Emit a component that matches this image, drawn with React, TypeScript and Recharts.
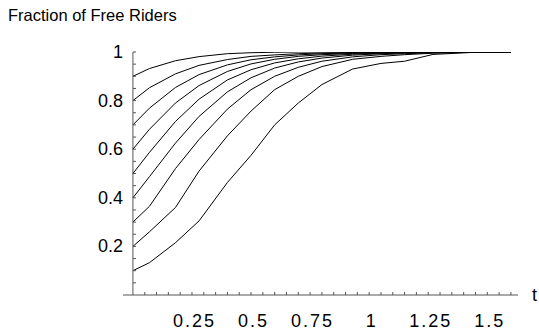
import { LineChart, Line, XAxis, YAxis, ReferenceLine } from 'recharts'

// time grid (t) shared by all curves
const tVals = [0, 0.07, 0.18, 0.28, 0.4, 0.5, 0.6, 0.7, 0.8, 0.93, 1.05, 1.15, 1.27, 1.45, 1.6]

// one curve per starting fraction
const s01 = [0.1, 0.133, 0.215, 0.305, 0.463, 0.575, 0.7, 0.79, 0.866, 0.93, 0.953, 0.962, 0.99, 0.999, 1]
const s02 = [0.2, 0.26, 0.36, 0.51, 0.655, 0.757, 0.845, 0.9, 0.94, 0.97, 0.982, 0.989, 0.995, 0.999, 1]
const s03 = [0.3, 0.365, 0.52, 0.64, 0.765, 0.845, 0.9, 0.937, 0.962, 0.98, 0.989, 0.993, 0.997, 0.999, 1]
const s04 = [0.4, 0.487, 0.625, 0.735, 0.836, 0.894, 0.934, 0.959, 0.975, 0.987, 0.993, 0.996, 0.998, 0.999, 1]
const s05 = [0.5, 0.587, 0.714, 0.806, 0.885, 0.927, 0.955, 0.972, 0.983, 0.991, 0.995, 0.997, 0.998, 0.999, 1]
const s06 = [0.6, 0.682, 0.79, 0.862, 0.92, 0.951, 0.97, 0.982, 0.989, 0.994, 0.997, 0.998, 0.999, 1, 1]
const s07 = [0.7, 0.769, 0.854, 0.907, 0.947, 0.968, 0.98, 0.988, 0.993, 0.996, 0.998, 0.999, 0.999, 1, 1]
const s08 = [0.8, 0.853, 0.91, 0.945, 0.969, 0.982, 0.988, 0.993, 0.996, 0.998, 0.999, 1, 1, 1, 1]
const s09 = [0.9, 0.932, 0.964, 0.981, 0.993, 0.997, 0.999, 1, 1, 1, 1, 1, 1, 1, 1]

const curves = [s01, s02, s03, s04, s05, s06, s07, s08, s09]

// tick labels
const xLabels = [0.25, 0.5, 0.75, 1, 1.25, 1.5]
const yLabels = [0.2, 0.4, 0.6, 0.8, 1]

// minor ticks every 0.05
const xTicks = Array.from({ length: 32 }, (_, i) => Math.round((i + 1) * 5) / 100)
const yTicks = Array.from({ length: 20 }, (_, i) => Math.round((i + 1) * 5) / 100)

const data = tVals.map((t, i) => {
  const row: Record<string, number> = { t }
  curves.forEach((c, k) => { row[`c${k}`] = c[i] })
  return row
})

const FONT = '"Liberation Sans", Arial, Helvetica, sans-serif'
const AXIS = '#555'
const Y_SHIFT = 10 // y axis sits at t = 0, right of the plot's left edge

const isLabel = (list: number[], v: number) => list.some(l => Math.abs(l - v) < 1e-6)

const XTick = (props: any) => {
  const { x, y, payload } = props
  const v = payload.value
  return (
    <g>
      <line x1={x} x2={x} y1={y} y2={y - 3} stroke={AXIS} />
      {isLabel(xLabels, v) && (
        <text x={x + 2.5} y={y + 32} textAnchor="middle" fontSize={18} letterSpacing={2} fontFamily={FONT} fill="#000">
          {String(v)}
        </text>
      )}
    </g>
  )
}

const YTick = (props: any) => {
  const { x, y, payload } = props
  const v = payload.value
  const ax = x + Y_SHIFT
  return (
    <g>
      <line x1={ax} x2={ax + 3} y1={y} y2={y} stroke={AXIS} />
      {isLabel(yLabels, v) && (
        <text x={ax - 10} y={y + 6} textAnchor="end" fontSize={18} fontFamily={FONT} fill="#000">
          {String(v)}
        </text>
      )}
    </g>
  )
}

export default function App() {
  return (
    <div style={{ position: 'absolute', left: 0, top: 0, width: 539, height: 332, background: '#fff' }}>
      <div style={{ position: 'absolute', left: 8, top: 6, fontFamily: FONT, fontSize: 16.5, lineHeight: '19px', color: '#000' }}>
        Fraction of Free Riders
      </div>
      <div style={{ position: 'absolute', left: 532, top: 285, fontFamily: FONT, fontSize: 18, lineHeight: '20px', color: '#000' }}>
        t
      </div>
      <LineChart width={539} height={332} data={data} margin={{ top: 52, right: 21, bottom: 7, left: 83 }}>
        <XAxis
          type="number"
          dataKey="t"
          domain={[-0.042, 1.63]}
          ticks={xTicks}
          interval={0}
          height={30}
          tickSize={0}
          tickMargin={0}
          tickLine={false}
          axisLine={{ stroke: AXIS }}
          tick={<XTick />}
          allowDataOverflow
        />
        <YAxis
          type="number"
          domain={[0, 1]}
          ticks={yTicks}
          interval={0}
          width={40}
          tickSize={0}
          tickMargin={0}
          tickLine={false}
          axisLine={false}
          tick={<YTick />}
          allowDataOverflow
        />
        <ReferenceLine x={0} stroke={AXIS} />
        {curves.map((_, k) => (
          <Line
            key={k}
            type="linear"
            dataKey={`c${k}`}
            stroke="#000"
            strokeWidth={1}
            dot={false}
            activeDot={false}
            isAnimationActive={false}
          />
        ))}
      </LineChart>
    </div>
  )
}
